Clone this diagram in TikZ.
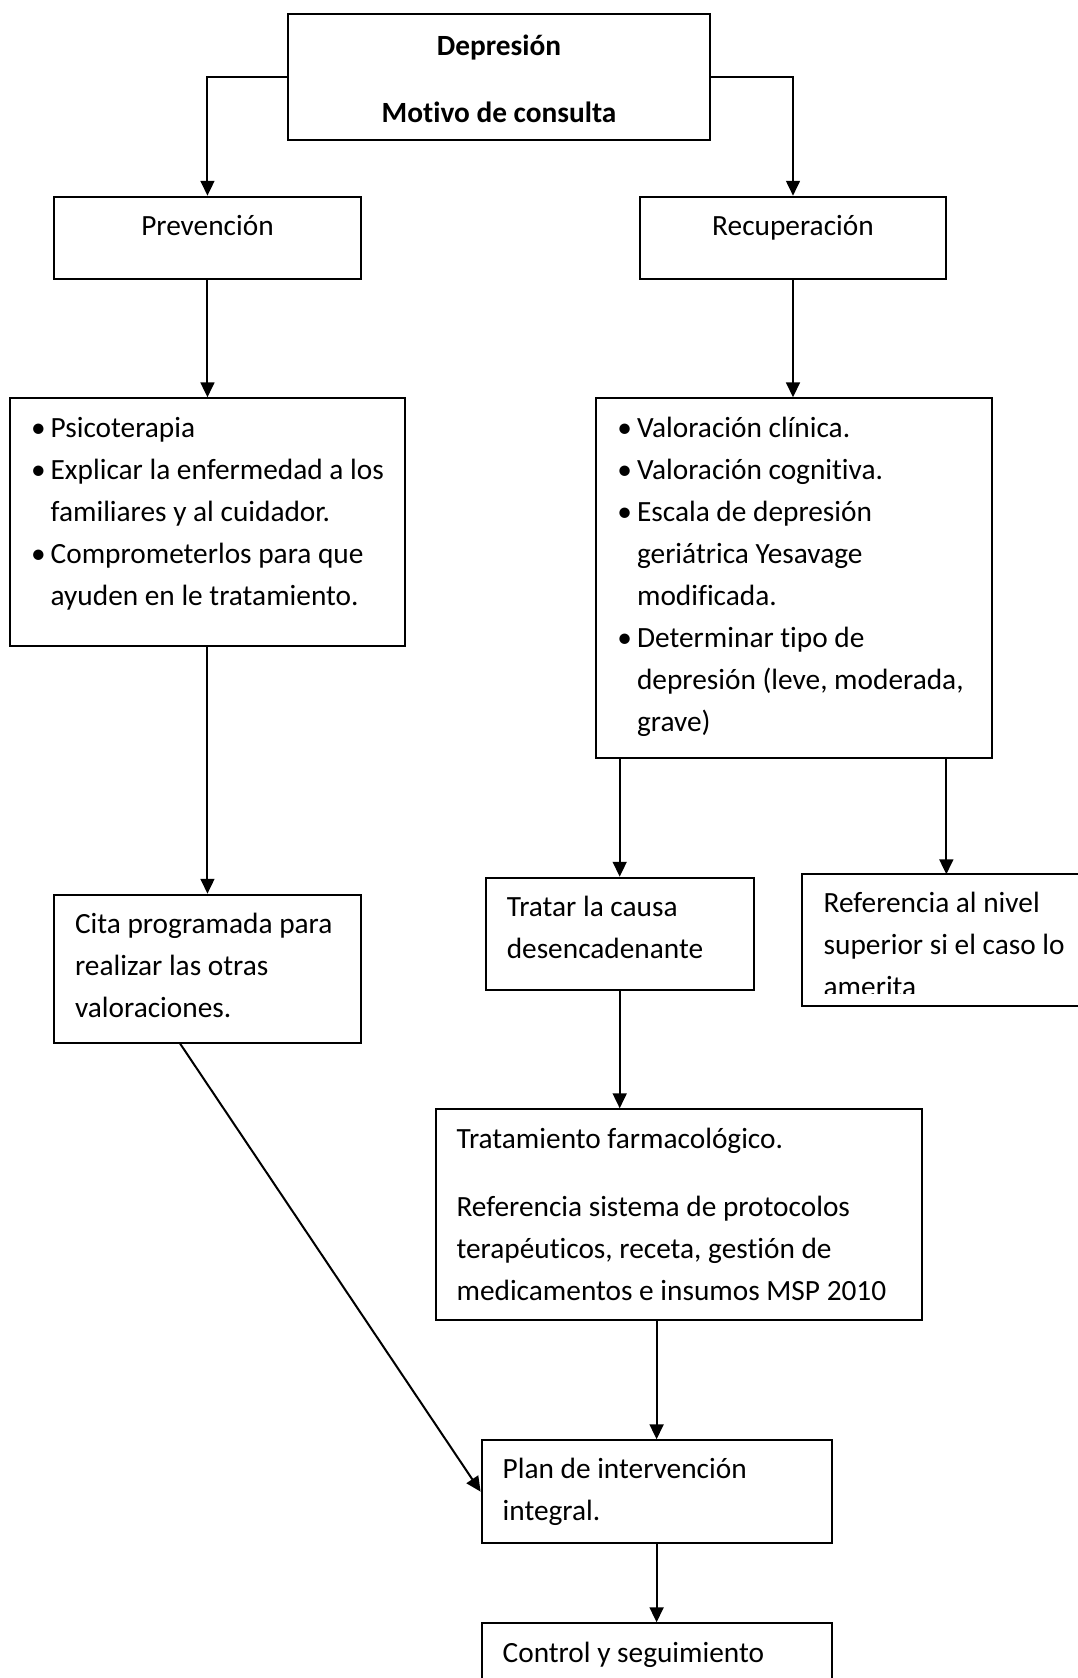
\documentclass[tikz,border=0pt]{standalone}
\usepackage{fontspec}
\setmainfont{Carlito}[Ligatures=NoCommon]
\usetikzlibrary{arrows.meta}
\newcommand{\vin}{\makebox[7.35pt][l]{\textbullet}}
\newcommand{\sangria}{\hspace*{7.35pt}}

\begin{document}
\begin{tikzpicture}[>={Triangle[length=5.6pt, width=5.2pt]},
	line width=0.75pt,
	x=0.375pt, y=-0.375pt,
	font=\fontsize{11}{15.75}\selectfont,
	caja/.style={draw, anchor=north west, inner sep=0pt, align=flush left, text height=14.5pt}]
	\useasboundingbox (0,0) rectangle (1078,1678);
	\clip (0,0) rectangle (1078,1678);
	% cajas
	\node at (287,13.3) (dep) [caja, align=flush center, text width=158.25pt, text height=15.3pt, text depth=31.8pt, font=\fontsize{11}{15.75}\selectfont\bfseries] {Depresión\\[9.6pt]Motivo de consulta};
	\node at (53,195.7) (prev) [caja, align=flush center, text width=115.1pt, text depth=16.5pt] {Prevención};
	\node at (639,195.7) (recu) [caja, align=flush center, text width=114.75pt, text depth=16.5pt] {Recuperación};
	\node at (9,397.3) (psico) [caja, text width=148.1pt, text height=14.8pt, text depth=78.1pt] {\leftskip=7.9pt
		\vin Psicoterapia\\
		\vin Explicar la enfermedad a los\\
		\sangria familiares y al cuidador.\\
		\vin Comprometerlos para que\\
		\sangria ayuden en le tratamiento.\par};
	\node at (595.4,397.3) (valor) [caja, text width=148.2pt, text height=14.8pt, text depth=120.1pt] {\leftskip=7.9pt
		\vin Valoración clínica.\\
		\vin Valoración cognitiva.\\
		\vin Escala de depresión\\
		\sangria geriátrica Yesavage\\
		\sangria modificada.\\
		\vin Determinar tipo de\\
		\sangria depresión (leve, moderada,\\
		\sangria grave)\par};
	\node at (53,893.7) (cita) [caja, text width=115.1pt, text height=14.55pt, text depth=40.95pt] {\leftskip=7.9pt
		Cita programada para\\realizar las otras\\valoraciones.\par};
	\node at (484.7,876.7) (causa) [caja, text width=100.5pt, text height=14.45pt, text depth=27.65pt] {\leftskip=7.9pt
		Tratar la causa\\desencadenante\par};
	\begin{scope}
		\clip (790,860) rectangle (1078,993.3);
		\node at (801.6,874.3) (refer) [caja, draw=none, text width=107.8pt, text height=14.1pt, text depth=34.65pt] {\leftskip=7.9pt
			Referencia al nivel\\superior si el caso lo\\amerita\par};
	\end{scope}
	\draw (refer.north west) rectangle (refer.south east);
	\node at (434.5,1108.3) (farma) [caja, text width=182.55pt, text height=14.7pt, text depth=64.4pt] {\leftskip=7.9pt
		Tratamiento farmacológico.\\[9.6pt]
		Referencia sistema de protocolos\\
		terapéuticos, receta, gestión de\\
		medicamentos e insumos MSP 2010\par};
	\node at (480.6,1439.3) (plan) [caja, text width=131.25pt, text height=14.3pt, text depth=24.2pt] {\leftskip=7.9pt
		Plan de intervención\\integral.\par};
	\node at (480.6,1622.3) (ctrl) [caja, text width=131.25pt, text height=14.8pt, text depth=30.2pt] {\leftskip=7.9pt
		Control y seguimiento\par};
	% flechas
	\draw[->] (dep.west) -| (prev.north);
	\draw[->] (dep.east) -| (recu.north);
	\draw[->] (prev.south) -- (psico.north);
	\draw[->] (recu.south) -- (recu.south |- valor.north);
	\draw[->] (psico.south) -- (cita.north);
	\draw[->] (causa.north |- valor.south) -- (causa.north);
	\draw[->] (refer.north |- valor.south) -- (refer.north);
	\draw[->] (causa.south) -- (causa.south |- farma.north);
	\draw[->] (plan.north |- farma.south) -- (plan.north);
	\draw[->] (plan.south) -- (ctrl.north);
	\draw[->] (cita.-110) -- (plan.west);
\end{tikzpicture}
\end{document}
